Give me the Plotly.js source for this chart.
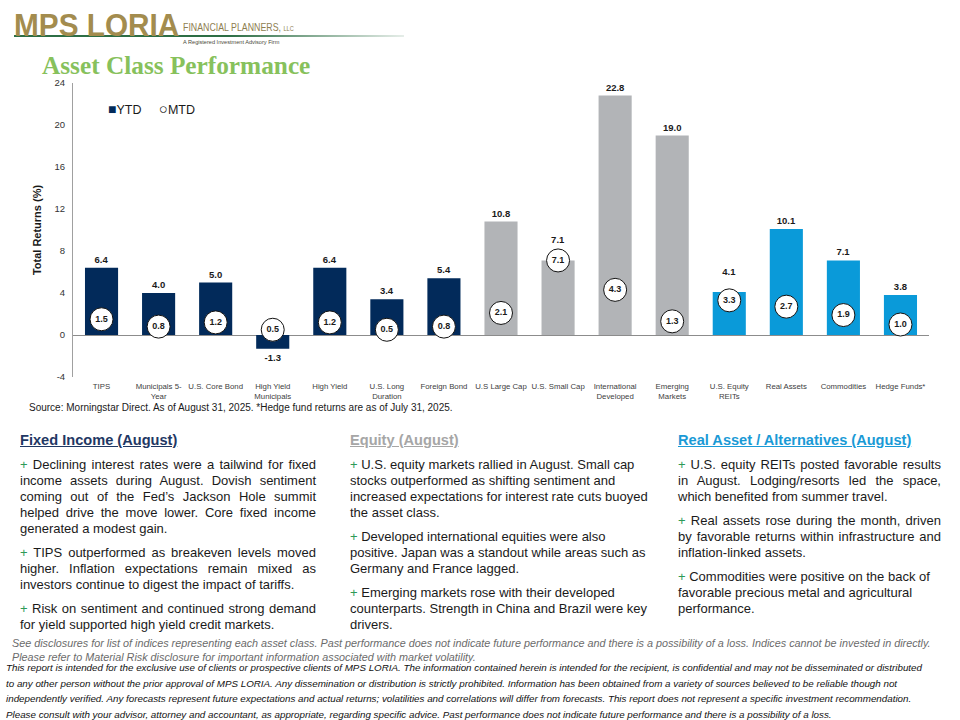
<!DOCTYPE html>
<html>
<head>
<meta charset="utf-8">
<script src="https://cdn.plot.ly/plotly-3.0.1.min.js"></script>
<style>
  html, body { margin:0; padding:0; background:#fff; }
  body { width:960px; height:720px; position:relative; overflow:hidden; font-family:"Liberation Sans", Arial, sans-serif; }
  #chart { position:absolute; left:0; top:0; width:960px; height:420px; }
  .abs { position:absolute; white-space:nowrap; }
  .logo { left:14px; top:9px; font-family:"Liberation Sans", Arial, sans-serif; font-weight:bold; font-size:32px; color:#a38c4e; line-height:32px; transform:scaleX(0.93); transform-origin:left top; }
  .fp { left:183px; top:21px; font-size:11px; line-height:13px; color:#8e7e50; transform:scaleX(0.8); transform-origin:left top; }
  .reg { left:183px; top:39px; font-size:5.6px; line-height:7px; color:#4a4a3a; }
  .gline { left:14px; top:35px; width:390px; height:2px; background:linear-gradient(to right,#2d6e45 0%,#2d6e45 55%,rgba(45,110,69,0.12) 100%); }
  .title { left:42px; top:51px; font-family:"Liberation Serif", "Times New Roman", serif; font-weight:bold; font-size:25.3px; line-height:28px; color:#87c15c; }
  .src { left:29px; top:402px; font-size:10px; color:#1a1a1a; }
  .col { font-size:13px; color:#1a1a1a; line-height:16px; white-space:normal; }
  .col h3 { margin:0 0 9px 0; font-size:14.6px; font-weight:bold; text-decoration:underline; line-height:16px; }
  .col p { margin:0 0 8px 0; text-align:justify; }
  .col p.l { text-align:left; }
  .col p::before { content:"+ "; color:#2e9a57; }
  .disc1 { left:12px; top:636px; font-size:10.8px; font-style:italic; color:#6b6b6b; line-height:14px; }
  .disc2 { left:6px; top:660px; font-size:9.8px; font-style:italic; color:#111; line-height:15.5px; }
</style>
</head>
<body>
<div id="chart"></div>

<div class="abs gline"></div>
<div class="abs logo">MPS LORIA</div>
<div class="abs fp">FINANCIAL PLANNERS, <span style="font-size:7px">LLC</span></div>
<div class="abs reg">A Registered Investment Advisory Firm</div>
<div class="abs title">Asset Class Performance</div>
<div class="abs src">Source: Morningstar Direct. As of August 31, 2025. *Hedge fund returns are as of July 31, 2025.</div>

<div class="abs col" style="left:20px; top:432px; width:296px;">
  <h3 style="color:#1f3864;">Fixed Income (August)</h3>
  <p>Declining interest rates were a tailwind for fixed income assets during August. Dovish sentiment coming out of the Fed’s Jackson Hole summit helped drive the move lower. Core fixed income generated a modest gain.</p>
  <p>TIPS outperformed as breakeven levels moved higher. Inflation expectations remain mixed as investors continue to digest the impact of tariffs.</p>
  <p>Risk on sentiment and continued strong demand for yield supported high yield credit markets.</p>
</div>
<div class="abs col" style="left:350px; top:432px; width:304px;">
  <h3 style="color:#a6a6a6;">Equity (August)</h3>
  <p class="l">U.S. equity markets rallied in August. Small cap stocks outperformed as shifting sentiment and increased expectations for interest rate cuts buoyed the asset class.</p>
  <p class="l">Developed international equities were also positive. Japan was a standout while areas such as Germany and France lagged.</p>
  <p class="l">Emerging markets rose with their developed counterparts. Strength in China and Brazil were key drivers.</p>
</div>
<div class="abs col" style="left:678px; top:432px; width:263px;">
  <h3 style="color:#1a9ad6;">Real Asset / Alternatives (August)</h3>
  <p>U.S. equity REITs posted favorable results in August. Lodging/resorts led the space, which benefited from summer travel.</p>
  <p>Real assets rose during the month, driven by favorable returns within infrastructure and inflation-linked assets.</p>
  <p class="l">Commodities were positive on the back of favorable precious metal and agricultural performance.</p>
</div>

<div class="abs disc1">See disclosures for list of indices representing each asset class. Past performance does not indicate future performance and there is a possibility of a loss. Indices cannot be invested in directly.<br>Please refer to Material Risk disclosure for important information associated with market volatility.</div>
<div class="abs disc2">This report is intended for the exclusive use of clients or prospective clients of MPS LORIA. The information contained herein is intended for the recipient, is confidential and may not be disseminated or distributed<br>to any other person without the prior approval of MPS LORIA. Any dissemination or distribution is strictly prohibited. Information has been obtained from a variety of sources believed to be reliable though not<br>independently verified. Any forecasts represent future expectations and actual returns; volatilities and correlations will differ from forecasts. This report does not represent a specific investment recommendation.<br>Please consult with your advisor, attorney and accountant, as appropriate, regarding specific advice. Past performance does not indicate future performance and there is a possibility of a loss.</div>

<script>
// ---- data ----
var categories = ["TIPS","Municipals 5-Year","U.S. Core Bond","High Yield Municipals","High Yield","U.S. Long Duration","Foreign Bond","U.S Large Cap","U.S. Small Cap","International Developed","Emerging Markets","U.S. Equity REITs","Real Assets","Commodities","Hedge Funds*"];
var tickLabels = ["TIPS","Municipals 5-<br>Year","U.S. Core Bond","High Yield<br>Municipals","High Yield","U.S. Long<br>Duration","Foreign Bond","U.S Large Cap","U.S. Small Cap","International<br>Developed","Emerging<br>Markets","U.S. Equity<br>REITs","Real Assets","Commodities","Hedge Funds*"];
var groups = ["fixed","fixed","fixed","fixed","fixed","fixed","fixed","equity","equity","equity","equity","real","real","real","real"];
var ytd = [6.4, 4.0, 5.0, -1.3, 6.4, 3.4, 5.4, 10.8, 7.1, 22.8, 19.0, 4.1, 10.1, 7.1, 3.8];
var mtd = [1.5, 0.8, 1.2, 0.5, 1.2, 0.5, 0.8, 2.1, 7.1, 4.3, 1.3, 3.3, 2.7, 1.9, 1.0];
var groupColors = {fixed:"#022a5a", equity:"#b2b4b7", real:"#0a9ad9"};
var yTicks = [-4, 0, 4, 8, 12, 16, 20, 24];
var seriesNames = ["YTD", "MTD"];

var barColors = groups.map(function(g){ return groupColors[g]; });
// lift a YTD label by one text line when the MTD circle sits at the bar top
var ytdText = ytd.map(function(v, i){
  var s = v.toFixed(1);
  return Math.abs(mtd[i] - v) < 1.0 ? s + "<br> " : s;
});

var traces = [
  {
    type:"bar", name:seriesNames[0], x:categories, y:ytd,
    marker:{color:barColors},
    text: ytdText,
    textposition:"outside", constraintext:"none", cliponaxis:false,
    textfont:{family:"Liberation Sans, Arial, sans-serif", size:9.5, color:"#1a1a1a", weight:"bold"},
    showlegend:false
  },
  {
    type:"scatter", mode:"markers+text", name:seriesNames[1], x:categories, y:mtd,
    marker:{symbol:"circle", size:23, color:"#ffffff", line:{color:"#111111", width:1}},
    text: mtd.map(function(v){ return v.toFixed(1); }),
    textposition:"middle center", cliponaxis:false,
    textfont:{family:"Liberation Sans, Arial, sans-serif", size:9, color:"#1a1a1a", weight:"bold"},
    showlegend:false
  }
];

var layout = {
  width:960, height:420,
  margin:{l:73, r:31, t:83, b:43},
  paper_bgcolor:"rgba(0,0,0,0)", plot_bgcolor:"rgba(0,0,0,0)",
  font:{family:"Liberation Sans, Arial, sans-serif", color:"#333"},
  bargap:0.42,
  showlegend:false,
  annotations:[
    {xref:"paper", yref:"paper", x:0.039, y:0.912, xanchor:"left", yanchor:"middle", showarrow:false,
     text:'<span style="color:' + groupColors.fixed + '; font-size:14px">■</span>' + seriesNames[0] +
          '     <span style="font-size:15px">○</span>' + seriesNames[1],
     font:{size:12.5, color:"#1a1a1a"}}
  ],
  xaxis:{type:"category", range:[-0.5, categories.length - 0.5], tickmode:"array", tickvals:categories, ticktext:tickLabels,
         showline:false, showgrid:false, ticks:"", ticklabelstandoff:3, tickfont:{size:7.8, color:"#404040"}, fixedrange:true},
  yaxis:{range:[-4,24], tickvals:yTicks, ticktext:yTicks.map(String),
         showgrid:false, zeroline:true, zerolinecolor:"#8c8c8c", zerolinewidth:1,
         showline:true, linecolor:"#a0a0a0", linewidth:1, ticks:"", ticklabelstandoff:5,
         tickfont:{size:9.5, color:"#333"},
         title:{text:"Total Returns (%)", font:{size:11, color:"#1a1a1a", weight:"bold"}, standoff:10}}
};

Plotly.newPlot("chart", traces, layout, {displayModeBar:false, staticPlot:true});
</script>
</body>
</html>
